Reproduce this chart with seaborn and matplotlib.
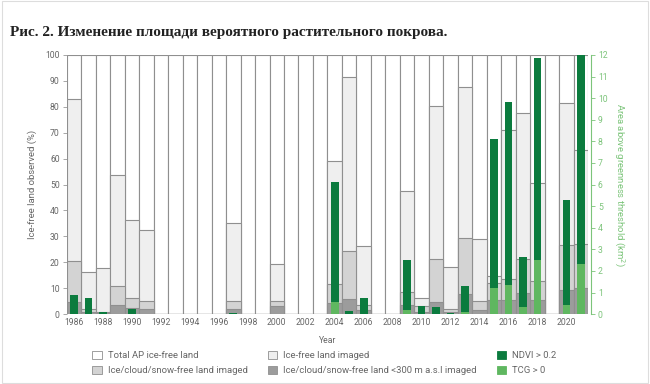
import numpy as np
import pandas as pd
import matplotlib
matplotlib.use("Agg")
import matplotlib.pyplot as plt
import seaborn as sns
from matplotlib.patches import Patch, Rectangle

# Data
years = [str(y) for y in range(1986, 2022)]
total_free = [100] * 36
# Ice-free land imaged (%)
imaged = [83, 16.3, 17.9, 53.5, 36.5, 32.5, 0, 0, 0, 0, 0, 35, 0, 0, 19.2, 0, 0, 0,
          59, 91.5, 26.4, 0, 0, 47.5, 6.1, 80.3, 18.3, 87.8, 28.8, 14.7, 71, 77.7,
          50.5, 0, 81.3, 63.5]
# Ice/cloud/snow-free land imaged (%)
clear = [20.5, 1.9, 1.0, 10.8, 6.1, 5.0, 0, 0, 0, 0, 0, 5.1, 0, 0, 5.1, 0, 0, 0,
         11.8, 24.4, 3.5, 0, 0, 8.6, 3.0, 21.1, 1.8, 29.2, 5.0, 12.0, 13.5, 21.1,
         12.9, 0, 26.6, 27.0]
# Ice/cloud/snow-free land <300 m a.s.l imaged (%)
clear_low = [4.7, 1.0, 0.5, 3.7, 2.4, 1.9, 0, 0, 0, 0, 0, 2.0, 0, 0, 3.1, 0, 0, 0,
             4.1, 5.8, 1.6, 0, 0, 3.5, 0.8, 4.7, 1.0, 7.7, 1.5, 5.4, 5.4, 8.0,
             5.5, 0, 9.4, 9.9]
# Area above greenness threshold (km2)
ndvi = [0.88, 0.75, 0.10, 0, 0.23, 0, 0, 0, 0, 0, 0, 0.05, 0, 0, 0, 0, 0, 0,
        6.13, 0.14, 0.73, 0, 0, 2.5, 0.38, 0.31, 0.05, 1.31, 0, 8.13, 9.83, 2.65,
        11.84, 0, 5.28, 12.0]
tcg = [0, 0, 0, 0, 0, 0, 0, 0, 0, 0, 0, 0, 0, 0, 0, 0, 0, 0,
       0.57, 0, 0, 0, 0, 0.19, 0, 0, 0, 0.1, 0, 1.23, 1.34, 0.34,
       2.5, 0, 0.42, 2.3]

df = pd.DataFrame({"Year": years, "total": total_free, "imaged": imaged,
                   "clear": clear, "clear_low": clear_low, "ndvi": ndvi, "tcg": tcg})

c_total = "#ffffff"
c_imaged = "#efefef"
c_clear = "#d3d3d3"
c_low = "#9c9c9c"
c_ndvi = "#0b7b3e"
c_tcg = "#5fb760"
edge = "#8f8f8f"
txt = "#666666"
green_axis = "#7cc47a"

sns.set_style("white")
plt.rcParams["font.family"] = ["Roboto", "DejaVu Sans"]

fig = plt.figure(figsize=(6.5, 3.84), dpi=100)
ax = fig.add_axes([0.1026, 0.182, 0.8024, 0.675])

# overlapping (not stacked) grey bars, all drawn from zero
for col, c in [("total", c_total), ("imaged", c_imaged), ("clear", c_clear), ("clear_low", c_low)]:
    sns.barplot(data=df, x="Year", y=col, color=c, width=1.0, saturation=1,
                edgecolor=edge, linewidth=0.8, errorbar=None, ax=ax)

ax.set_ylim(0, 100)
ax.set_yticks(range(0, 101, 10))
ax.set_xticks(range(0, 36, 2))
ax.set_xticklabels(years[::2])
ax.set_xlim(-0.5, 35.5)
ax.tick_params(axis="x", length=0, pad=3, labelsize=6.2, labelcolor=txt)
ax.tick_params(axis="y", length=3, width=0.6, color="#999999", pad=2, labelsize=6.2, labelcolor=txt, left=True)
ax.set_xlabel("Year", fontsize=6.2, color=txt, labelpad=6)
ax.set_ylabel("Ice-free land observed (%)", fontsize=6.8, color=txt, labelpad=6)
for s in ["top", "left", "bottom", "right"]:
    ax.spines[s].set_visible(False)

# green bars on the right axis
ax2 = ax.twinx()
sns.barplot(data=df, x="Year", y="ndvi", color=c_ndvi, width=0.53, saturation=1,
            linewidth=0, errorbar=None, ax=ax2)
sns.barplot(data=df, x="Year", y="tcg", color=c_tcg, width=0.53, saturation=1,
            linewidth=0, errorbar=None, ax=ax2)
ax2.set_ylim(0, 12)
ax2.set_yticks(range(0, 13))
ax2.set_xlim(-0.5, 35.5)
ax2.set_xlabel("")
ax2.tick_params(axis="y", length=3, width=0.6, color=green_axis, pad=2, labelsize=6.2,
                labelcolor=green_axis, right=True)
ax2.set_ylabel("Area above greenness threshold (km$^2$)", fontsize=6.8, color=green_axis,
               rotation=270, labelpad=14)
for s in ["top", "left", "bottom"]:
    ax2.spines[s].set_visible(False)
ax2.spines["right"].set_color(green_axis)
ax2.spines["right"].set_linewidth(0.8)
ax2.spines["right"].set_position(("outward", 2))

# legend in three columns with uneven spacing
def make_leg(handles, x):
    leg = fig.legend(handles=handles, loc="upper left", bbox_to_anchor=(x, 0.099),
                     frameon=False, fontsize=6.8, handlelength=1.0, handleheight=1.0,
                     handletextpad=0.6, labelspacing=0.6, borderpad=0, labelcolor=txt)
    return leg

make_leg([Patch(facecolor=c_total, edgecolor=edge, linewidth=0.6, label="Total AP ice-free land"),
          Patch(facecolor=c_clear, edgecolor=edge, linewidth=0.6, label="Ice/cloud/snow-free land imaged")],
         0.135)
make_leg([Patch(facecolor=c_imaged, edgecolor=edge, linewidth=0.6, label="Ice-free land imaged"),
          Patch(facecolor=c_low, edgecolor=edge, linewidth=0.6, label="Ice/cloud/snow-free land <300 m a.s.l imaged")],
         0.405)
make_leg([Patch(facecolor=c_ndvi, edgecolor=c_ndvi, linewidth=0.6, label="NDVI > 0.2"),
          Patch(facecolor=c_tcg, edgecolor=c_tcg, linewidth=0.6, label="TCG > 0")],
         0.757)

fig.text(0.015, 0.915, "Рис. 2. Изменение площади вероятного растительного покрова.",
         fontsize=11, fontweight="bold", family=["Liberation Serif", "DejaVu Serif"],
         color="#222222", ha="left", va="center")

fig.patches.append(Rectangle((0.003, 0.003), 0.994, 0.994, transform=fig.transFigure,
                             fill=False, edgecolor="#dddddd", linewidth=0.8))

fig.savefig("out.png", dpi=100)
